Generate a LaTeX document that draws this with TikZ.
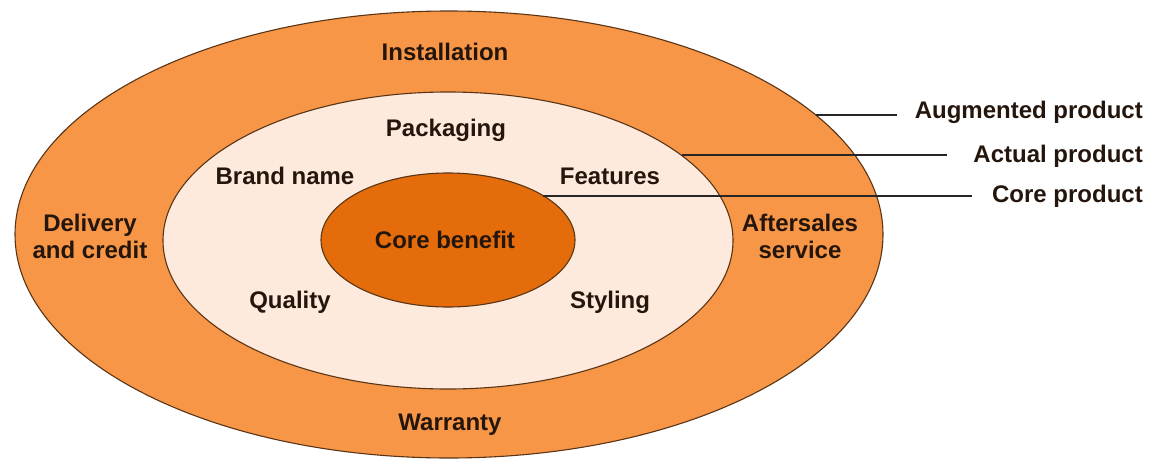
\documentclass[tikz,border=0pt]{standalone}
\usepackage{fontspec}
\setmainfont{Liberation Sans}
\usepackage{xcolor}
\usetikzlibrary{shapes.geometric,positioning}

\definecolor{augfill}{HTML}{F79646}
\definecolor{actfill}{HTML}{FDEADC}
\definecolor{corefill}{HTML}{E46C0A}
\definecolor{rimline}{HTML}{5A3416}
\definecolor{labeltext}{HTML}{24160C}

\begin{document}
\begin{tikzpicture}[
    x=1pt, y=-1pt,
    ring/.style={ellipse, draw=rimline, line width=1.1pt, inner sep=0pt, outer sep=0pt},
    lbl/.style={font=\fontsize{24}{27}\selectfont\bfseries, text=labeltext, align=center, inner sep=0pt},
    tag/.style={lbl, anchor=east},
    leader/.style={line width=2pt, draw=black!85}
]
\useasboundingbox (0,0) rectangle (1164,458);

\node[ring, fill=augfill, minimum width=868pt, minimum height=447pt] (augmented) at (449,234.5) {};
\node[ring, fill=actfill, minimum width=570pt, minimum height=297pt] (actual) at (448,240.5) {};
\node[ring, fill=corefill, minimum width=254pt, minimum height=134pt] (core) at (448,240) {};

\node[lbl] (installation) at (445,52) {Installation};
\node[lbl] (warranty) at (450,425) {Warranty};
\node[lbl] (delivery) at (90,236) {Delivery\\and credit};
\node[lbl] (aftersales) at (800,236) {Aftersales\\service};
\node[lbl] (packaging) at (446,130) {Packaging};
\node[lbl] (brand) at (285,176) {Brand name};
\node[lbl] (features) at (610,176) {Features};
\node[lbl] (quality) at (290,302) {Quality};
\node[lbl] (styling) at (610,302) {Styling};
\node[lbl] (benefit) at (445,240) {Core benefit};

\node[tag] (augtag) at (1143,112) {Augmented product};
\node[tag] (acttag) at (1143,156) {Actual product};
\node[tag] (coretag) at (1143,196) {Core product};

\draw[leader] (augmented.18.6) -- ([xshift=-18pt]augmented.18.6 -| augtag.west);
\draw[leader] (actual.20.2) -- ([xshift=-26pt]actual.20.2 -| acttag.west);
\draw[leader] (core.25.6) -- ([xshift=-20pt]core.25.6 -| coretag.west);
\end{tikzpicture}
\end{document}
